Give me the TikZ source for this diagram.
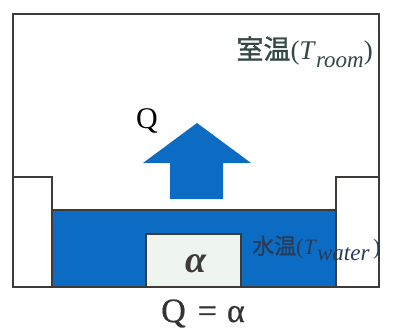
\documentclass[tikz,border=0pt]{standalone}
\usepackage{fontspec}
\setmainfont{Liberation Serif}
\newfontfamily\cjk[FakeBold=1.2]{Noto Sans CJK JP}
\newfontfamily\eqfont[FakeBold=0.6]{Liberation Serif}
\usepackage{xcolor}
\definecolor{wall}{RGB}{62, 58, 56}
\definecolor{water}{RGB}{12, 108, 196}
\definecolor{heater}{RGB}{238, 245, 238}
\definecolor{tlabel}{RGB}{52, 72, 72}
\definecolor{wlabel}{RGB}{40, 60, 90}
\usepackage{tikz}

\begin{document}
\begin{tikzpicture}[x=1pt, y=-1pt, line join=miter]
    \useasboundingbox (0,0) rectangle (399,335);

    % Room walls
    \draw[wall, line width=2.5pt] (13,14) rectangle (379,287);

    % Side blocks
    \draw[wall, line width=2pt, fill=white] (13,177) rectangle (52,287);
    \draw[wall, line width=2pt, fill=white] (336,177) rectangle (379,287);

    % Water bath and heater
    \draw[wall, line width=2pt, fill=water] (52,210) rectangle (336,287);
    \draw[wall, line width=2pt, fill=heater] (146,234) rectangle (241,287);

    % Heat flow
    \fill[water] (170,199) -- (170,163) -- (143,163) -- (197,123)
        -- (251,163) -- (223,163) -- (223,199) -- cycle;

    \node[anchor=base] (Q) at (147,128) {\fontsize{30}{32}\selectfont Q};
    \node[anchor=base east, text=tlabel, inner sep=0pt] (room) at (373,59)
        {\fontsize{27}{29}\selectfont{\cjk 室温}(\textit{T}\raisebox{-0.3em}{\fontsize{23}{25}\selectfont\textit{room}})};
    \node[anchor=base west, text=wlabel, inner sep=0pt] (water) at (252,254)
        {\fontsize{22}{24}\selectfont{\cjk 水温}(\textit{T}\raisebox{-0.3em}{\fontsize{23}{25}\selectfont\textit{water}}\,)};
    \node[anchor=base, text=wall] (alpha) at (196,272)
        {\fontsize{38}{40}\selectfont\bfseries\itshape α};
    \node[anchor=base, text=black!80] (balance) at (203,322)
        {\fontsize{34}{36}\selectfont\eqfont Q\hspace{12pt}=\hspace{10pt}α};
\end{tikzpicture}
\end{document}
